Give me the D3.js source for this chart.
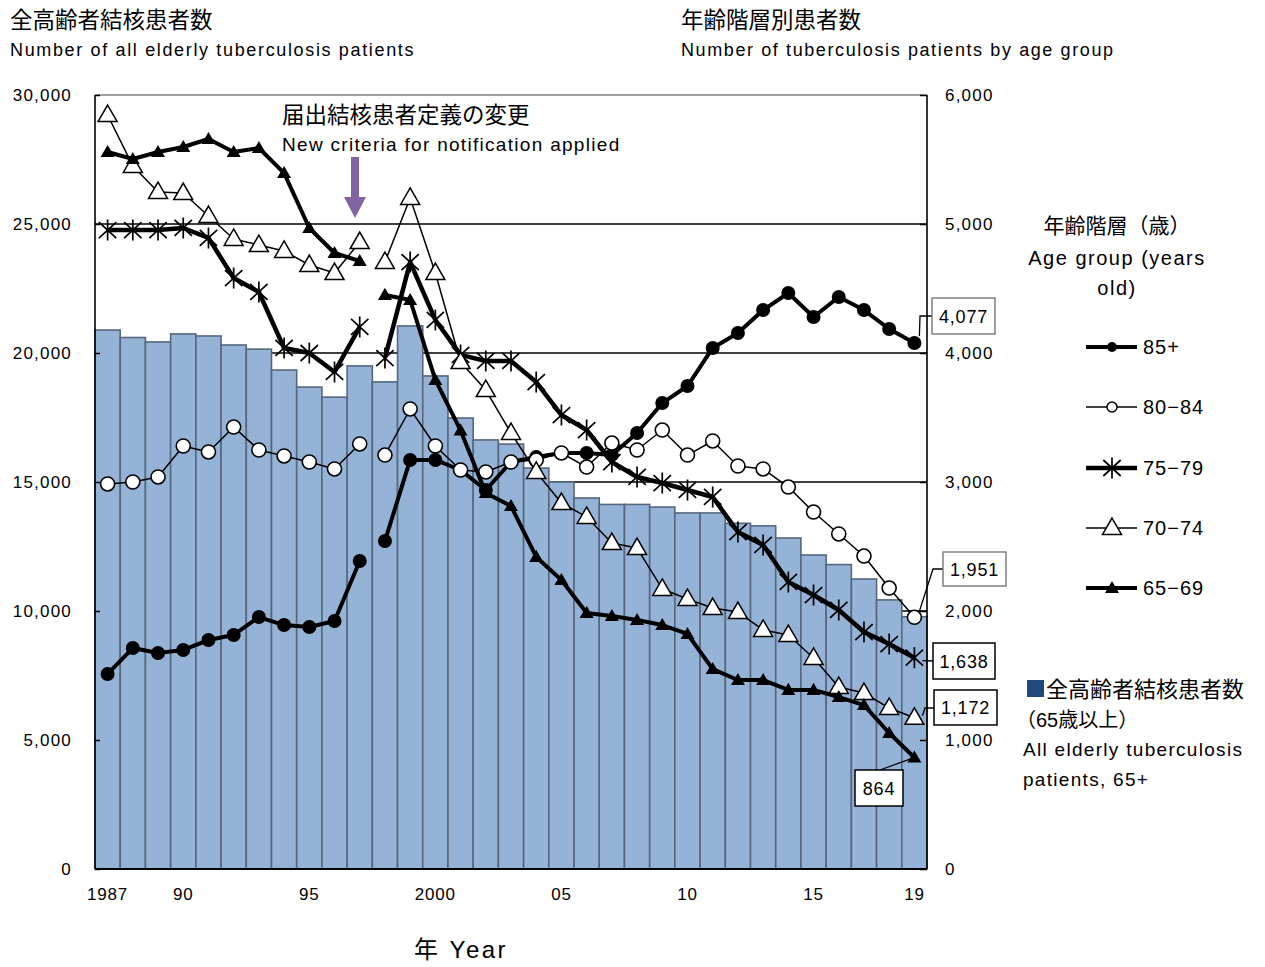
<!DOCTYPE html>
<html><head><meta charset="utf-8">
<script src="https://cdn.jsdelivr.net/npm/d3@7"></script>
<style>
body{margin:0;background:#fff;}
svg{display:block;font-family:"Liberation Sans","Noto Sans CJK JP",sans-serif;}
</style></head>
<body><svg id="c" width="1265" height="967"></svg>
<script>
const years = d3.range(1987, 2020);
const xTickLabels = [[1987,"1987"],[1990,"90"],[1995,"95"],[2000,"2000"],[2005,"05"],[2010,"10"],[2015,"15"],[2019,"19"]];
const leftTicks = [0,5000,10000,15000,20000,25000,30000];
const rightTicks = [0,1000,2000,3000,4000,5000,6000];
const breakYear = 1998; // new notification criteria: lines break between 1997 and 1998

const total65 = [20890,20600,20430,20740,20660,20310,20150,19340,18680,18290,19500,18880,21050,19110,17480,16630,16470,15540,15000,14380,14130,14130,14030,13800,13800,13400,13300,12830,12170,11800,11240,10430,9780];
const age85 = [1512,1713,1674,1698,1775,1814,1953,1891,1876,1922,2388,2543,3171,3171,3093,2938,3155,3194,3225,3225,3210,3380,3612,3744,4039,4155,4333,4465,4279,4434,4333,4186,4077];
const age80 = [2985,3000,3039,3279,3233,3426,3248,3202,3155,3101,3295,3209,3566,3279,3093,3078,3155,3170,3225,3116,3302,3248,3403,3209,3318,3124,3101,2961,2767,2597,2426,2178,1951];
const age75 = [4953,4953,4953,4969,4892,4581,4473,4039,4000,3853,4202,3961,4705,4256,3985,3938,3938,3775,3519,3403,3155,3039,2992,2938,2884,2612,2512,2225,2124,2008,1837,1744,1638];
const age70 = [5845,5450,5248,5240,5062,4884,4837,4791,4682,4620,4860,4705,5202,4620,3930,3713,3380,3078,2837,2729,2527,2488,2171,2093,2023,1992,1853,1814,1636,1411,1364,1248,1172];
const age65 = [5558,5504,5558,5597,5659,5558,5589,5395,4969,4775,4713,4450,4411,3791,3400,2915,2814,2419,2240,1985,1961,1930,1891,1822,1550,1465,1465,1388,1388,1333,1271,1054,864];

const seriesNames = ["85+","80−84","75−79","70−74","65−69"];
const seriesValues = [age85, age80, age75, age70, age65];

const svg = d3.select("#c");
const X0=95, X1=927, Y0=95, Y1=869;
const x = d3.scaleBand().domain(years).range([X0,X1]).padding(0);
const yL = d3.scaleLinear().domain([0,30000]).range([Y1,Y0]);
const yR = d3.scaleLinear().domain([0,6000]).range([Y1,Y0]);
const cx = yr => x(yr) + x.bandwidth()/2;

const styles = [
  {w:4, marker:"dot"},
  {w:1.5, marker:"circle"},
  {w:4.5, marker:"star"},
  {w:1.5, marker:"otri"},
  {w:4, marker:"ftri"}
];

// gridlines (behind bars)
svg.append("g").selectAll("line").data(leftTicks.filter(t=>t>0 && t<30000)).join("line")
  .attr("x1",X0).attr("x2",X1).attr("y1",d=>yL(d)).attr("y2",d=>yL(d))
  .attr("stroke","#000").attr("stroke-width",1.6);

// bars
svg.append("g").selectAll("rect").data(years.map((y,i)=>({y,v:total65[i]}))).join("rect")
  .attr("x",d=>x(d.y)).attr("width",x.bandwidth())
  .attr("y",d=>yL(d.v)).attr("height",d=>Y1-yL(d.v))
  .attr("fill","#95B3D7").attr("stroke","#56677d").attr("stroke-width",1.6);

// frame
svg.append("line").attr("x1",X0).attr("x2",X1).attr("y1",Y0).attr("y2",Y0).attr("stroke","#808080").attr("stroke-width",1.5);
svg.append("line").attr("x1",X1).attr("x2",X1).attr("y1",Y0).attr("y2",Y1).attr("stroke","#000").attr("stroke-width",1.6);
svg.append("line").attr("x1",X0).attr("x2",X0).attr("y1",Y0).attr("y2",Y1).attr("stroke","#000").attr("stroke-width",1.6);
svg.append("line").attr("x1",X0).attr("x2",X1).attr("y1",Y1).attr("y2",Y1).attr("stroke","#000").attr("stroke-width",1.8);

// axes
const axL = d3.axisLeft(yL).tickValues(leftTicks).tickSize(-5).tickPadding(23).tickFormat(d3.format(","));
const gL = svg.append("g").attr("transform",`translate(${X0},0)`).call(axL);
const axR = d3.axisRight(yR).tickValues(rightTicks).tickSize(-7).tickPadding(24).tickFormat(d3.format(","));
const gR = svg.append("g").attr("transform",`translate(${X1},0)`).call(axR);
[gL,gR].forEach(g=>{g.select(".domain").remove();
  g.selectAll("line").attr("stroke","#000").attr("stroke-width",1.5);
  g.selectAll("text").attr("font-size",17).attr("fill","#000").attr("letter-spacing",1.2).attr("font-family","Liberation Sans, sans-serif");});
gR.selectAll(".tick text").attr("dx",-6);

svg.append("g").selectAll("text").data(xTickLabels).join("text")
  .attr("x",d=>cx(d[0])).attr("y",900).attr("text-anchor","middle")
  .attr("font-size",17).attr("letter-spacing",0.8).text(d=>d[1]);

// lines
const line = d3.line().x(d=>cx(d.yr)).y(d=>yR(d.v));
seriesValues.forEach((vals,si)=>{
  const pts = years.map((yr,i)=>({yr,v:vals[i]}));
  const segs = [pts.filter(p=>p.yr<breakYear), pts.filter(p=>p.yr>=breakYear)];
  const g = svg.append("g");
  g.selectAll("path").data(segs).join("path").attr("d",line)
    .attr("fill","none").attr("stroke","#000").attr("stroke-width",styles[si].w).attr("stroke-linejoin","round");
  drawMarkers(g, pts.map(p=>[cx(p.yr), yR(p.v)]), styles[si].marker);
});

function triPath(cxp, cyp, s){
  const h = s*Math.sqrt(3)/2;
  return `M${cxp},${cyp-2*h/3}L${cxp+s/2},${cyp+h/3}L${cxp-s/2},${cyp+h/3}Z`;
}
function drawMarkers(g, pts, m){
  pts.forEach(([px,py])=>{
    if(m==="dot") g.append("circle").attr("cx",px).attr("cy",py).attr("r",7).attr("fill","#000");
    else if(m==="circle") g.append("circle").attr("cx",px).attr("cy",py).attr("r",7).attr("fill","#fff").attr("stroke","#000").attr("stroke-width",1.6);
    else if(m==="star"){
      const r=10;
      g.append("path").attr("d",`M${px-r*0.87},${py-r*0.8}L${px+r*0.87},${py+r*0.8}M${px-r*0.87},${py+r*0.8}L${px+r*0.87},${py-r*0.8}M${px},${py-r*1.05}L${px},${py+r*1.05}`)
        .attr("stroke","#000").attr("stroke-width",1.7).attr("fill","none");
    }
    else if(m==="otri") g.append("path").attr("d",triPath(px,py+1,19)).attr("fill","#fff").attr("stroke","#000").attr("stroke-width",1.5);
    else if(m==="ftri") g.append("path").attr("d",triPath(px,py+1,14)).attr("fill","#000");
  });
}

// value callouts
const last = years.length-1, lx = cx(years[last]);
const callouts = [
  {v:age85[last], box:[932,298,63,36], stroke:"#808080", path:(p)=>[[p[0]+5,p[1]-7],[920,316],[932,316]]},
  {v:age80[last], box:[943,552,63,34], stroke:"#808080", path:(p)=>[[p[0]+5,p[1]-6],[933,569],[943,569]]},
  {v:age75[last], box:[933,643,62,36], stroke:"#000", path:(p)=>[[p[0]+8,p[1]+3],[933,661]]},
  {v:age70[last], box:[934,690,63,35], stroke:"#000", path:(p)=>[[p[0]+8,p[1]-2],[925,708],[934,708]]},
  {v:age65[last], box:[855,770,48,36], stroke:"#000", path:(p)=>[[p[0]-3,p[1]+1],[880,770]]}
];
callouts.forEach(c=>{
  const p=[lx, yR(c.v)];
  svg.append("path").attr("d",d3.line()(c.path(p))).attr("fill","none").attr("stroke","#000").attr("stroke-width",1.3);
  svg.append("rect").attr("x",c.box[0]).attr("y",c.box[1]).attr("width",c.box[2]).attr("height",c.box[3])
    .attr("fill","#fff").attr("stroke",c.stroke).attr("stroke-width",1.5);
  svg.append("text").attr("x",c.box[0]+c.box[2]/2).attr("y",c.box[1]+c.box[3]/2+6.5).attr("text-anchor","middle")
    .attr("font-size",18).attr("letter-spacing",0.8).text(d3.format(",")(c.v));
});

// titles
const T = (x,y,s,t,anchor="start",ls=0)=>svg.append("text").attr("x",x).attr("y",y).attr("font-size",s)
  .attr("text-anchor",anchor).attr("letter-spacing",ls).text(t);
T(10,28,22.5,"全高齢者結核患者数");
T(10,56,18,"Number of all elderly tuberculosis patients","start",1.65);
T(681,28,22.5,"年齢階層別患者数");
T(681,56,18,"Number of tuberculosis patients by age group","start",1.6);
T(282,123,22.5,"届出結核患者定義の変更");
T(282,151,19,"New criteria for notification applied","start",1.3);
T(461,958,24,"年  Year","middle",2.5);

// arrow
svg.append("path").attr("d","M351,157L359,157L359,197L366,197L355,218L344,197L351,197Z").attr("fill","#8064A2");

// legend
T(1117,233,21,"年齢階層（歳）","middle");
T(1117,265,20,"Age group (years","middle",1.5);
T(1117,295,20,"old)","middle",1.5);
const legY = [347,407,468,528,588];
seriesNames.forEach((n,i)=>{
  const g = svg.append("g");
  g.append("line").attr("x1",1086).attr("x2",1137).attr("y1",legY[i]).attr("y2",legY[i]).attr("stroke","#000").attr("stroke-width",styles[i].w);
  const m = styles[i].marker;
  if(m==="dot") g.append("circle").attr("cx",1112).attr("cy",legY[i]).attr("r",5).attr("fill","#000");
  else if(m==="circle") g.append("circle").attr("cx",1112).attr("cy",legY[i]).attr("r",5).attr("fill","#fff").attr("stroke","#000").attr("stroke-width",1.5);
  else drawMarkers(g,[[1112,legY[i]]],m);
  T(1143,legY[i]+7,20,n,"start",1);
});

// bar legend
svg.append("rect").attr("x",1027).attr("y",680).attr("width",17).attr("height",17).attr("fill","#1F497D");
T(1046,697,22,"全高齢者結核患者数");
T(1016,727,20,"（65歳以上）");
T(1023,756,19,"All elderly tuberculosis","start",1.3);
T(1023,786,19,"patients, 65+","start",1.3);
</script></body></html>
